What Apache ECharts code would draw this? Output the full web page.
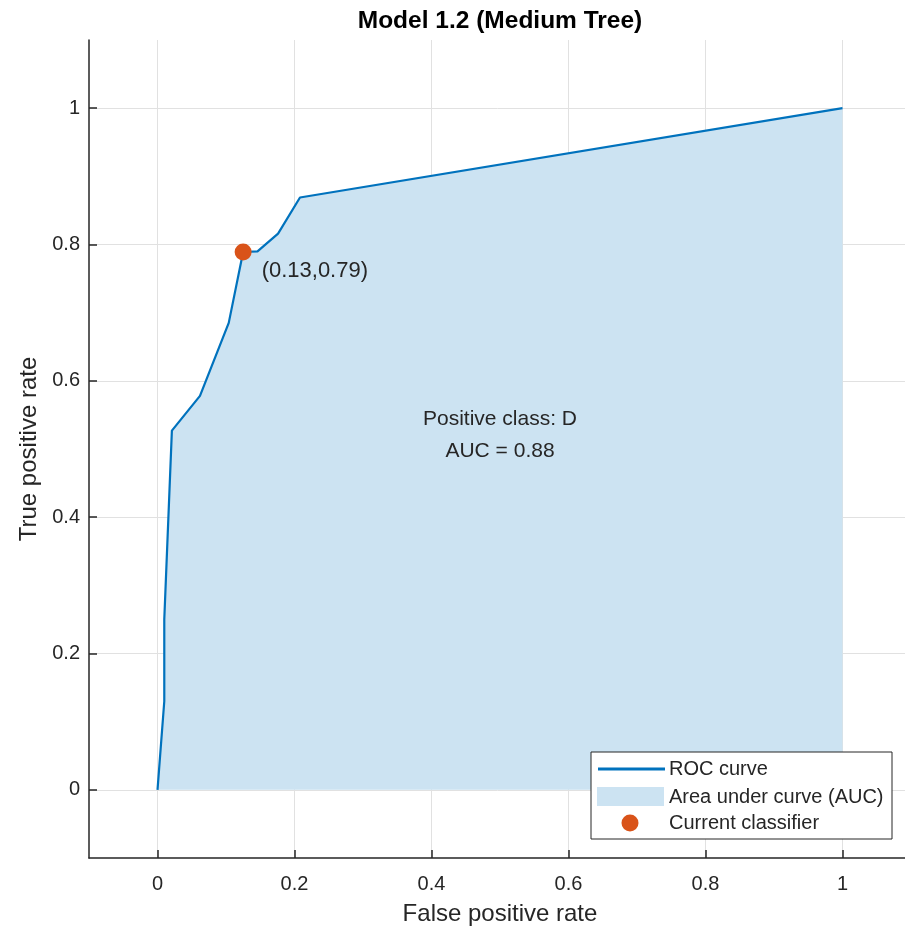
<!DOCTYPE html>
<html>
<head>
<meta charset="utf-8">
<script src="https://cdn.jsdelivr.net/npm/echarts@6/dist/echarts.min.js"></script>
<style>
html,body{margin:0;padding:0;background:#fff;}
#chart{width:905px;height:928px;}
</style>
</head>
<body>
<div id="chart"></div>
<script>
// ---- data ----
const fprValues = [0, 0.0099, 0.0099, 0.021, 0.062, 0.104, 0.125, 0.146, 0.176, 0.208, 1];
const tprValues = [0, 0.13, 0.25, 0.527, 0.578, 0.685, 0.789, 0.790, 0.816, 0.869, 1];
const classifierPoint = [0.125, 0.789];
const classifierLabel = '(0.13,0.79)';
const tickValues = [0, 0.2, 0.4, 0.6, 0.8, 1];
const yRange = [-0.1, 1.1];
const xRange = [-0.1, 1.1];
const annotationLines = ['Positive class: D', 'AUC = 0.88'];
const annotationPoint = [0.5, 0.52];
const legendLabels = ['ROC curve', 'Area under curve (AUC)', 'Current classifier'];
const titleText = 'Model 1.2 (Medium Tree)';
const xName = 'False positive rate';
const yName = 'True positive rate';

// ---- styles ----
const FONT = "'Liberation Sans', Arial, Helvetica, sans-serif";
const TEXT = '#262626';
const LINE_C = '#0072BD';
const AREA_C = '#cce3f2';
const DOT_C = '#D95319';
const GRID_C = '#e1e1e1';

const rocData = fprValues.map((x, i) => [x, tprValues[i]]);

function axisCommon(name, range, nameGap, labelMargin) {
  return {
    type: 'value',
    min: range[0],
    max: range[1],
    name: name,
    nameLocation: 'middle',
    nameGap: nameGap,
    nameTextStyle: { fontFamily: FONT, fontSize: 24, color: TEXT },
    axisLine: { show: true, onZero: false, lineStyle: { color: TEXT, width: 1.5 } },
    axisTick: { show: true, inside: true, length: 8, customValues: tickValues, lineStyle: { color: TEXT, width: 1.5 } },
    axisLabel: { customValues: tickValues, fontFamily: FONT, fontSize: 20, color: TEXT, margin: labelMargin },
    splitLine: { show: true, lineStyle: { color: GRID_C, width: 1 } }
  };
}

const chart = echarts.init(document.getElementById('chart'), null, { renderer: 'canvas' });
const lx = 591, ly = 752;
const LZ = 100;
chart.setOption({
  backgroundColor: '#fff',
  animation: false,
  title: {
    text: titleText,
    left: 500,
    top: 9,
    padding: 0,
    textAlign: 'center',
    textStyle: { fontFamily: FONT, fontSize: 24.5, fontWeight: 'bold', color: '#000' }
  },
  grid: { left: 89, top: 40, width: 822, height: 818, containLabel: false, outerBoundsMode: 'none' },
  xAxis: axisCommon(xName, xRange, 44, 16),
  yAxis: axisCommon(yName, yRange, 44, 9),
  series: [
    {
      type: 'line',
      data: rocData,
      showSymbol: false,
      symbol: 'none',
      lineStyle: { color: LINE_C, width: 2.2 },
      areaStyle: { color: AREA_C, opacity: 1 },
      z: 2
    },
    {
      type: 'scatter',
      data: [classifierPoint],
      symbol: 'circle',
      symbolSize: 17,
      itemStyle: { color: DOT_C, opacity: 1 },
      label: {
        show: true,
        formatter: classifierLabel,
        position: 'right',
        offset: [5, 19],
        fontFamily: FONT,
        fontSize: 22,
        color: TEXT,
        opacity: 1
      },
      z: 5
    },
    {
      type: 'scatter',
      data: [annotationPoint],
      symbol: 'circle',
      symbolSize: 2,
      itemStyle: { color: 'rgba(0,0,0,0)', opacity: 1 },
      label: {
        show: true,
        position: 'inside',
        formatter: annotationLines.join('\n'),
        fontFamily: FONT,
        fontSize: 21,
        lineHeight: 32,
        align: 'center',
        verticalAlign: 'middle',
        color: TEXT,
        opacity: 1
      },
      z: 4
    }
  ],
  graphic: [
    { type: 'rect', z: LZ, shape: { x: lx, y: ly, width: 301, height: 87 }, style: { fill: '#fff', stroke: TEXT, lineWidth: 1 } },
    { type: 'line', z: LZ + 1, shape: { x1: lx + 7, y1: ly + 17, x2: lx + 74, y2: ly + 17 }, style: { stroke: LINE_C, lineWidth: 3 } },
    { type: 'rect', z: LZ + 1, shape: { x: lx + 6, y: ly + 35, width: 67, height: 19 }, style: { fill: AREA_C } },
    { type: 'circle', z: LZ + 1, shape: { cx: lx + 39, cy: ly + 71, r: 8.5 }, style: { fill: DOT_C } },
    { type: 'text', z: LZ + 1, x: lx + 78, y: ly + 17, style: { text: legendLabels[0], fontFamily: FONT, fontSize: 20, fill: TEXT, verticalAlign: 'middle' } },
    { type: 'text', z: LZ + 1, x: lx + 78, y: ly + 45, style: { text: legendLabels[1], fontFamily: FONT, fontSize: 20, fill: TEXT, verticalAlign: 'middle' } },
    { type: 'text', z: LZ + 1, x: lx + 78, y: ly + 71, style: { text: legendLabels[2], fontFamily: FONT, fontSize: 20, fill: TEXT, verticalAlign: 'middle' } }
  ]
});
</script>
</body>
</html>
